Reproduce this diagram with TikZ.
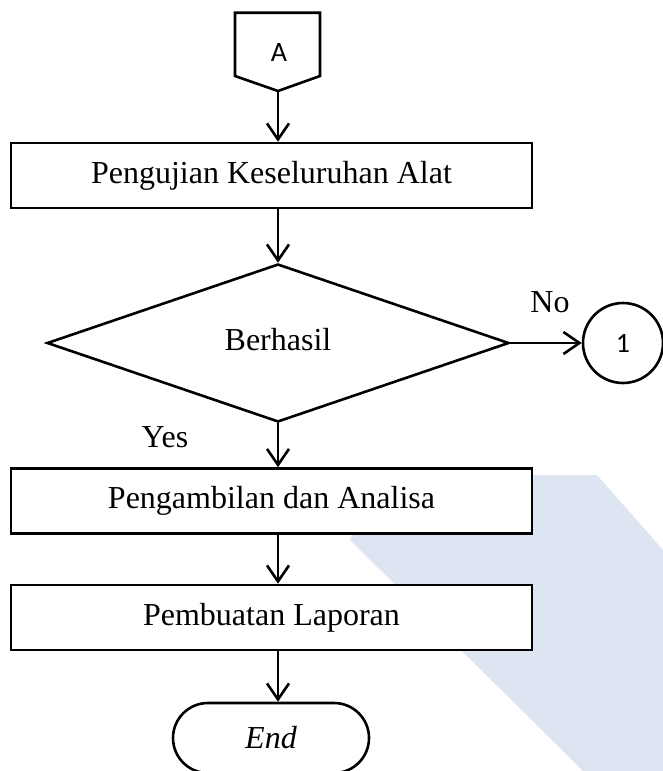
\documentclass[tikz,border=0pt]{standalone}
\usepackage{fontspec}
\setmainfont{Liberation Serif}
\newfontfamily\calib{Carlito}
\usetikzlibrary{arrows.meta,shapes.geometric}
\definecolor{wm}{RGB}{221,229,242}
\begin{document}
\begin{tikzpicture}[x=1pt,y=1pt,
  every node/.style={font=\fontsize{32}{38}\selectfont},
  stroke/.style={line width=2.6pt, draw=black},
  arr/.style={line width=2.6pt, draw=black, -{Straight Barb[length=16pt,width=22pt]}},
  procbox/.style={draw, line width=2.6pt, fill=white, minimum width=521pt, minimum height=65pt, inner sep=0pt},
  decision/.style={shape=diamond, draw, line width=2.6pt, fill=white, minimum width=462pt, minimum height=158pt, inner sep=0pt},
  connector/.style={shape=circle, draw, line width=2.6pt, fill=white, minimum size=80pt, inner sep=0pt, font=\calib\fontsize{28}{32}\selectfont},
  terminal/.style={draw, line width=2.6pt, fill=white, rounded corners=35pt, minimum width=196pt, minimum height=70pt, inner sep=0pt, font=\itshape\fontsize{32}{38}\selectfont}
]
\useasboundingbox (0,0) rectangle (663,-771);
% watermark
\fill[wm] (380,-475) -- (597,-475) -- (663,-550) -- (663,-771) -- (583,-771) -- (350,-540) -- cycle;

% off-page connector A
\draw[stroke, line join=miter] (235,-12.7) -- (320,-12.7) -- (320,-76) -- (278,-91) -- (235,-76) -- cycle;
\node[font=\calib\fontsize{28}{32}\selectfont] (A) at (279,-52.5) {A};
\coordinate (Abot) at (278,-91);

\node[procbox] (b1) at (271.5,-175.5) {Pengujian Keseluruhan Alat};
\node[decision] (dec) at (278,-343) {\raisebox{7pt}{Berhasil}};
\node[connector] (c1) at (623,-343) {1};
\node[procbox] (b2) at (271.5,-501) {Pengambilan dan Analisa};
\node[procbox] (b3) at (271.5,-617.5) {Pembuatan Laporan};
\node[terminal] (e) at (271,-738) {End};

\node (no) at (550,-302) {No};
\node (yes) at (165,-437) {Yes};

\draw[arr] (Abot) -- (Abot |- b1.north);
\draw[arr] (Abot |- b1.south) -- (dec.north);
\draw[arr] (dec.east) -- (c1.west);
\draw[arr] (dec.south) -- (dec.south |- b2.north);
\draw[arr] (dec.south |- b2.south) -- (dec.south |- b3.north);
\draw[arr] (dec.south |- b3.south) -- (dec.south |- e.north);
\end{tikzpicture}
\end{document}
